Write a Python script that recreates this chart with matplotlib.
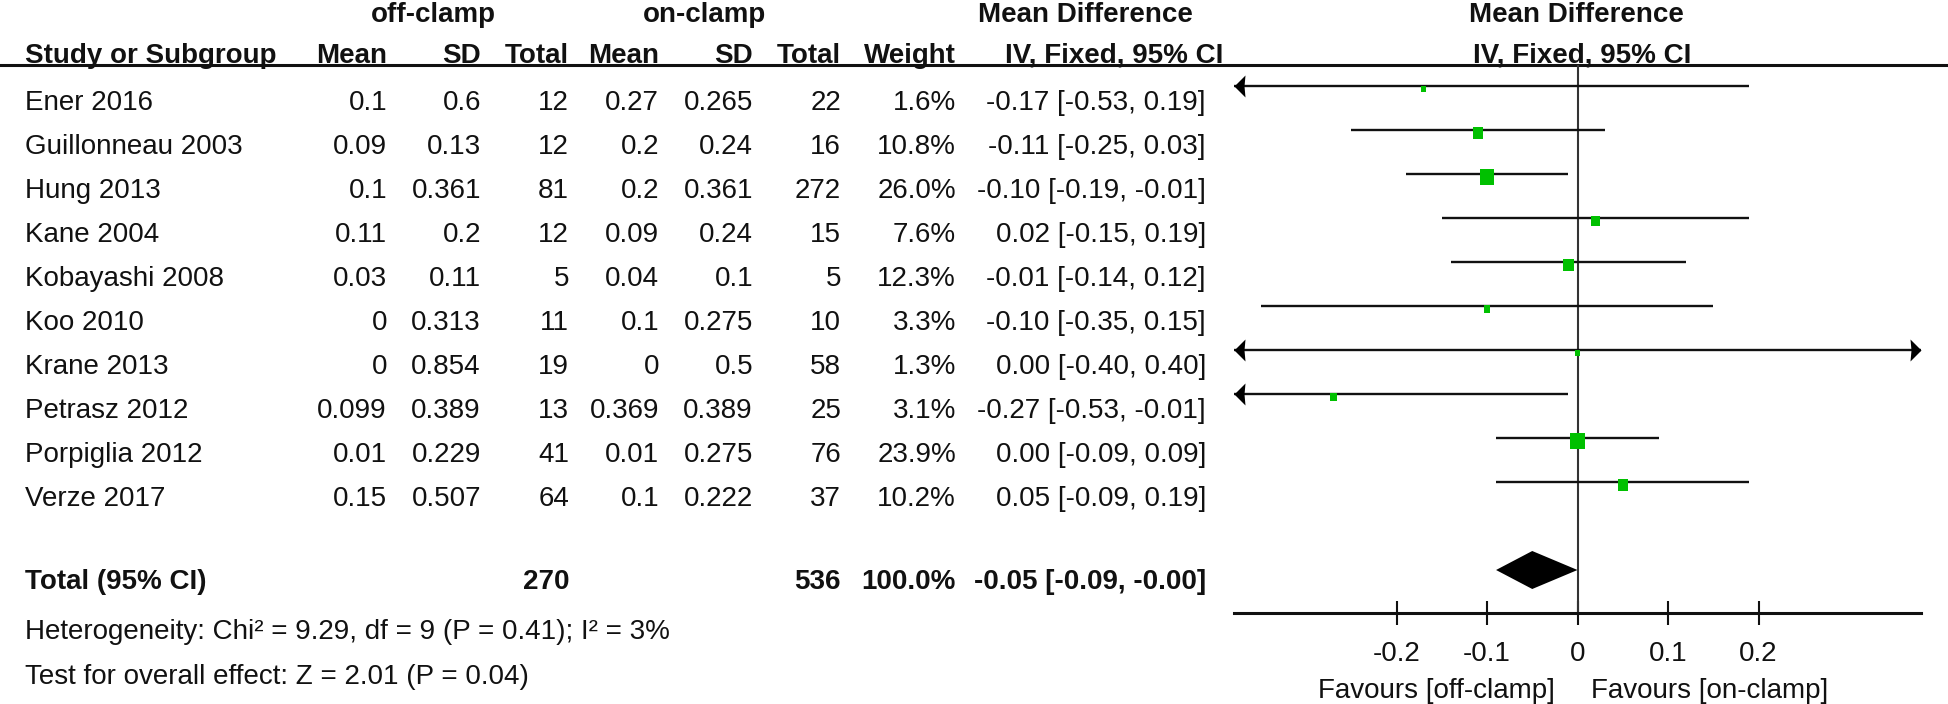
import matplotlib
matplotlib.use('Agg')
import matplotlib.pyplot as plt
import matplotlib.transforms as mtransforms
import numpy as np

plt.rcParams['font.family'] = ['Liberation Sans', 'DejaVu Sans']

# data
studies = ['Ener 2016', 'Guillonneau 2003', 'Hung 2013', 'Kane 2004',
           'Kobayashi 2008', 'Koo 2010', 'Krane 2013', 'Petrasz 2012',
           'Porpiglia 2012', 'Verze 2017']
off_mean = [0.1, 0.09, 0.1, 0.11, 0.03, 0, 0, 0.099, 0.01, 0.15]
off_sd = [0.6, 0.13, 0.361, 0.2, 0.11, 0.313, 0.854, 0.389, 0.229, 0.507]
off_n = [12, 12, 81, 12, 5, 11, 19, 13, 41, 64]
on_mean = [0.27, 0.2, 0.2, 0.09, 0.04, 0.1, 0, 0.369, 0.01, 0.1]
on_sd = [0.265, 0.24, 0.361, 0.24, 0.1, 0.275, 0.5, 0.389, 0.275, 0.222]
on_n = [22, 16, 272, 15, 5, 10, 58, 25, 76, 37]
weight = [1.6, 10.8, 26.0, 7.6, 12.3, 3.3, 1.3, 3.1, 23.9, 10.2]
md = [-0.17, -0.11, -0.10, 0.02, -0.01, -0.10, 0.00, -0.27, 0.00, 0.05]
ci_lo = [-0.53, -0.25, -0.19, -0.15, -0.14, -0.35, -0.40, -0.53, -0.09, -0.09]
ci_hi = [0.19, 0.03, -0.01, 0.19, 0.12, 0.15, 0.40, -0.01, 0.09, 0.19]

total_off_n = 270
total_on_n = 536
total_weight = 100.0
total_md = -0.05
total_lo = -0.09
total_hi = -0.0

heterogeneity = 'Heterogeneity: Chi\u00b2 = 9.29, df = 9 (P = 0.41); I\u00b2 = 3%'
overall_effect = 'Test for overall effect: Z = 2.01 (P = 0.04)'

group_labels = ['off-clamp', 'on-clamp']
col_labels = ['Mean', 'SD', 'Total', 'Mean', 'SD', 'Total', 'Weight']
xticks = [-0.2, -0.1, 0, 0.1, 0.2]
xtick_labels = ['-0.2', '-0.1', '0', '0.1', '0.2']
favours = ['Favours [off-clamp]', 'Favours [on-clamp]']

# layout (pixels)
W, H = 1948, 704
FS = 20
HALF_CAP = 0.716 * FS * 100 / 72 / 2
TXT = '#111111'
GREEN = '#00c000'
ROW0, ROWH = 86, 44
TXT_OFF = 14.5
TOTAL_ROW = 11
AXIS_ROW = (612.7 - ROW0) / ROWH
HEAD_LINE = 64.7
XLIM = 0.38
PLOT_L, PLOT_R = 1233.6, 1921.4
col_right = [387, 481, 569, 659, 753, 841, 956, 1206]
STUDY_X = 25

fig = plt.figure(figsize=(W / 100, H / 100), dpi=100)
ax = fig.add_axes([0, 0, 1, 1])
ax.set_xlim(0, W)
ax.set_ylim(H, 0)
ax.axis('off')


def put(x, yc, s, ha='right', bold=False, trans=None):
    ax.text(x, yc + HALF_CAP, s, ha=ha, va='baseline', fontsize=FS,
            fontweight='bold' if bold else 'normal', color=TXT,
            transform=trans if trans is not None else ax.transData)


def ty(i):
    return ROW0 + ROWH * i + TXT_OFF


# headers
put(433, 11.7, group_labels[0], ha='center', bold=True)
put(705, 11.7, group_labels[1], ha='center', bold=True)
put(1085, 11.7, 'Mean Difference', ha='center', bold=True)
put(1576, 11.7, 'Mean Difference', ha='center', bold=True)
put(STUDY_X, 53, 'Study or Subgroup', ha='left', bold=True)
for x, lab in zip(col_right, col_labels):
    put(x, 53, lab, bold=True)
put(1114, 53, 'IV, Fixed, 95% CI', ha='center', bold=True)
put(1582, 53, 'IV, Fixed, 95% CI', ha='center', bold=True)
ax.axhline(HEAD_LINE, color=TXT, lw=2.2)

# study rows
for i, name in enumerate(studies):
    y = ty(i)
    put(STUDY_X, y, name, ha='left')
    vals = [f'{off_mean[i]:g}', f'{off_sd[i]:g}', str(off_n[i]),
            f'{on_mean[i]:g}', f'{on_sd[i]:g}', str(on_n[i]),
            f'{weight[i]:.1f}%',
            f'{md[i]:.2f} [{ci_lo[i]:.2f}, {ci_hi[i]:.2f}]']
    for x, v in zip(col_right, vals):
        put(x, y, v)

# total row
yt = ROW0 + ROWH * TOTAL_ROW + 9.5
put(STUDY_X, yt, 'Total (95% CI)', ha='left', bold=True)
put(col_right[2], yt, str(total_off_n), bold=True)
put(col_right[5], yt, str(total_on_n), bold=True)
put(col_right[6], yt, f'{total_weight:.1f}%', bold=True)
put(col_right[7], yt, f'{total_md:.2f} [{total_lo:.2f}, {total_hi:.2f}]', bold=True)
put(STUDY_X, 629, heterogeneity, ha='left')
put(STUDY_X, 674, overall_effect, ha='left')

# forest plot
fax = fig.add_axes([PLOT_L / W, 0, (PLOT_R - PLOT_L) / W, 1])
fax.patch.set_visible(False)
fax.set_xlim(-XLIM, XLIM)
fax.set_ylim((H - ROW0) / ROWH, -ROW0 / ROWH)
for s in ['top', 'left', 'right']:
    fax.spines[s].set_visible(False)
fax.spines['bottom'].set_position(('data', AXIS_ROW))
fax.spines['bottom'].set_linewidth(2.2)
fax.spines['bottom'].set_color(TXT)
fax.set_yticks([])
fax.set_xticks(xticks)
fax.set_xticklabels(xtick_labels)
fax.tick_params(axis='x', direction='inout', length=17, width=1.5,
                labelsize=FS, pad=12, colors=TXT)

fax.vlines(0, (HEAD_LINE - ROW0) / ROWH, AXIS_ROW, color='#333333', lw=1.5)

rows = np.arange(len(studies))
lo_c = np.clip(ci_lo, -XLIM, XLIM)
hi_c = np.clip(ci_hi, -XLIM, XLIM)
fax.hlines(rows, lo_c, hi_c, color=TXT, lw=1.7, clip_on=False)

# arrowheads where the interval runs off the scale
left_arrow = [(0, 0), (11, 11), (10, 0), (11, -11), (0, 0)]
right_arrow = [(-x, y) for x, y in left_arrow]
for i in rows:
    if ci_lo[i] < -XLIM:
        fax.plot(-XLIM, i, marker=left_arrow, ms=15.84, color='black',
                 mew=0, clip_on=False, zorder=4)
    if ci_hi[i] > XLIM:
        fax.plot(XLIM, i, marker=right_arrow, ms=15.84, color='black',
                 mew=0, clip_on=False, zorder=4)

# squares sized by weight
w_px = 2.6 + 2.37 * np.sqrt(weight)
size_pt = 1.15 * w_px * 0.72
box = [(-1, -1.15), (1, -1.15), (1, 1.15), (-1, 1.15), (-1, -1.15)]
fax.scatter(md, rows + 0.068, s=size_pt ** 2, marker=box, color=GREEN,
            linewidths=0, zorder=3, clip_on=False)

# pooled diamond
dh = 19 / ROWH
fax.fill([total_lo, total_md, total_hi, total_md],
         [TOTAL_ROW, TOTAL_ROW - dh, TOTAL_ROW, TOTAL_ROW + dh],
         color='black', lw=0)

# favours labels
blend = mtransforms.blended_transform_factory(fax.transData, ax.transData)
t_left = mtransforms.offset_copy(blend, fig=fig, x=-16, y=0, units='points')
t_right = mtransforms.offset_copy(blend, fig=fig, x=9.5, y=0, units='points')
put(0, 688, favours[0], ha='right', trans=t_left)
put(0, 688, favours[1], ha='left', trans=t_right)

fig.savefig('out.png', dpi=100)
